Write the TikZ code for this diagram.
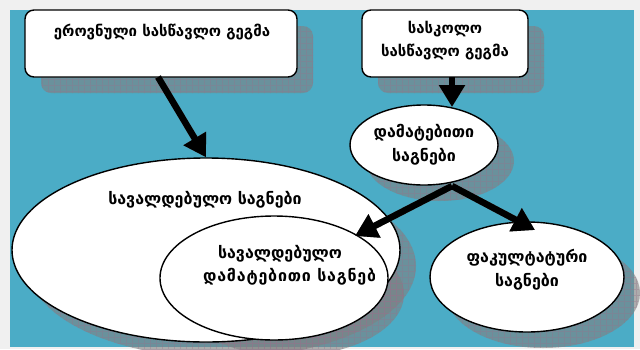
\documentclass[tikz,border=0pt]{standalone}
\usepackage{fontspec}
\setmainfont{DejaVu Sans}
\usetikzlibrary{arrows.meta,shapes.geometric,patterns.meta}
\definecolor{bluebg}{RGB}{75,172,198}
\definecolor{margin}{RGB}{240,240,240}
\definecolor{shdc}{RGB}{128,128,128}
\definecolor{gridc}{RGB}{150,115,140}
\definecolor{arrshdc}{RGB}{128,128,128}
\tikzset{
  shd/.style={fill=shdc, fill opacity=0.6, draw=none, inner sep=0pt, xshift=16pt, yshift=-16pt},
  shdgrid/.style={pattern={Hatch[angle=0,distance=6pt,line width=0.5pt]}, pattern color=gridc, draw=none, inner sep=0pt, opacity=0.35, xshift=16pt, yshift=-16pt},
  boxst/.style={draw, fill=white, line width=1.4pt, rounded corners=9pt, inner sep=0pt},
  ellst/.style={ellipse, draw, fill=white, line width=1.4pt, inner sep=0pt},
  txt/.style={font=\fontsize{15}{23}\selectfont\bfseries, align=center, inner sep=0pt},
  txtb/.style={font=\fontsize{16}{24}\selectfont\bfseries, align=center, inner sep=0pt},
  arr/.style={line width=6.5pt, draw=black, -{Triangle[width=25pt,length=22pt]}},
  arrshd/.style={line width=6.5pt, draw=arrshdc, -{Triangle[width=25pt,length=22pt]}, xshift=3pt, yshift=-4pt}
}
\begin{document}
\begin{tikzpicture}[x=1pt,y=-1pt]
\useasboundingbox (0,0) rectangle (640,349);
\fill[margin] (0,0) rectangle (640,349);
\fill[bluebg] (10,10) rectangle (634,347);
% shadows
\foreach \s in {shd,shdgrid}{
  \node[\s, rounded corners=10pt, minimum width=272pt, minimum height=67pt] at (161,43.5) {};
  \node[\s, rounded corners=10pt, minimum width=166pt, minimum height=67pt] at (445,43.5) {};
  \node[\s, ellipse, minimum width=148pt, minimum height=80pt] at (424,145) {};
  \node[\s, ellipse, minimum width=388pt, minimum height=184pt] at (206,250) {};
  \node[\s, ellipse, minimum width=228pt, minimum height=124pt] at (274,278) {};
  \node[\s, ellipse, minimum width=194pt, minimum height=110pt] at (527,277) {};
}
% shapes
\node[boxst, minimum width=272pt, minimum height=67pt] (box1) at (161,43.5) {};
\node[boxst, minimum width=166pt, minimum height=67pt] (box2) at (445,43.5) {};
\node[ellst, minimum width=148pt, minimum height=80pt] (dt) at (424,145) {};
\node[ellst, minimum width=388pt, minimum height=184pt] (big) at (206,250) {};
\node[ellst, minimum width=228pt, minimum height=124pt] (inn) at (274,278) {};
\node[ellst, minimum width=194pt, minimum height=110pt] (fk) at (527,277) {};
% texts
\node[txt] (t1) at (162,32) {ეროვნული სასწავლო გეგმა};
\node[txt] (t2) at (445,40.5) {სასკოლო\\სასწავლო გეგმა};
\node[txtb] (t3) at (424,145) {დამატებითი\\საგნები};
\node[txtb] (t4) at (205,200) {სავალდებულო საგნები};
\node[txtb] (t5) at (280,254) {სავალდებულო};
\begin{scope}
\clip (150,262) rectangle (374,292);
\node[txtb, anchor=west, font=\fontsize{16}{24}\selectfont\bfseries\addfontfeatures{LetterSpace=5}] (t6) at (203,277) {დამატებითი საგნები};
\end{scope}
\node[txtb] (t7) at (527,270) {ფაკულტატური\\საგნები};
% connectors
\coordinate (a1s) at (158,77);
\coordinate (a2s) at (452,77);
\coordinate (a2e) at (452,107);
\coordinate (fork) at (452,186);
\coordinate (a3e) at (355,236);
\coordinate (a4e) at (535,230);
\draw[arrshd] (a1s) -- (big.north);
\draw[arrshd] (a2s) -- (a2e);
\draw[arrshd] (fork) -- (a3e);
\draw[arrshd] (fork) -- (a4e);
\draw[arr] (a1s) -- (big.north);
\draw[arr] (a2s) -- (a2e);
\draw[arr] (fork) -- (a3e);
\draw[arr] (fork) -- (a4e);
\end{tikzpicture}
\end{document}
